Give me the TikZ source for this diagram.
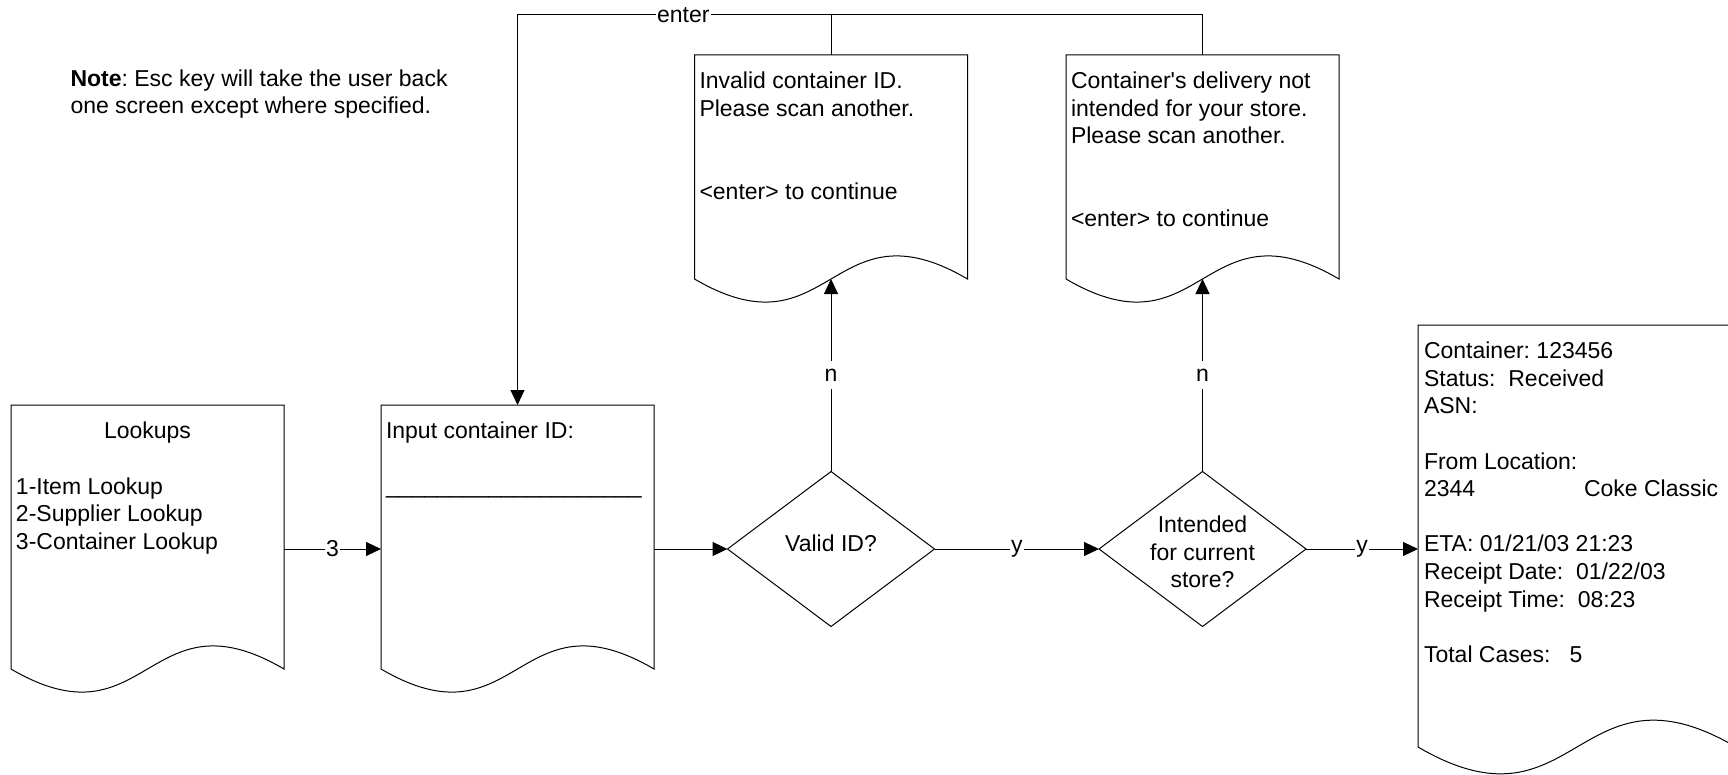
\documentclass[tikz,border=0pt]{standalone}
\usepackage{fontspec}
\setmainfont{Liberation Sans}[Ligatures=TeXOff]
\usetikzlibrary{arrows.meta,shapes.geometric,calc}
\frenchspacing
\newcommand\docoutline[2]{\draw[ln] (#1.north west) -- (#1.north east) -- (#1.south east)
  .. controls ($(#1.south)+(0,-#2)$) and ($(#1.south)+(0,#2)$) .. (#1.south west) -- cycle;}
\begin{document}
\begin{tikzpicture}[x=0.5pt,y=-0.5pt,
  every node/.style={font=\fontsize{11.5pt}{13.8pt}\selectfont\frenchspacing, inner sep=0pt, outer sep=0pt},
  docbox/.style={rectangle, draw=none, anchor=north west},
  ln/.style={line width=0.5pt, draw=black},
  arr/.style={ln, -{Triangle[length=7.5pt,width=7pt]}},
  lbl/.style={fill=white, inner xsep=0.75pt, inner ysep=4pt},
  dec/.style={diamond, draw, line width=0.5pt, inner sep=0pt, minimum width=103.5pt, minimum height=77.5pt},
  txt/.style={anchor=north west, align=left}
]
\path[use as bounding box] (0,0) rectangle (1728,775);
\clip (0,0) rectangle (1728,775);

% document-shaped screens
\node[docbox, minimum width=136.5pt, minimum height=132pt] (look) at (11,405) {};
\node[docbox, minimum width=136.5pt, minimum height=132pt] (inp) at (381,405) {};
\node[docbox, minimum width=136.5pt, minimum height=112pt] (inv) at (694.5,55) {};
\node[docbox, minimum width=136.5pt, minimum height=112pt] (cdel) at (1066,55) {};
\node[docbox, minimum width=159pt, minimum height=211pt] (cont) at (1418,325) {};
\docoutline{look}{80}
\docoutline{inp}{80}
\docoutline{inv}{80}
\docoutline{cdel}{80}
\docoutline{cont}{93}

% decisions
\node[dec] (d1) at (831,549) {};
\node[dec] (d2) at (1202.5,549) {};
\node[align=center] (d1T) at ($(d1)+(0,-5.5)$) {Valid ID?};
\node[align=center] (d2T) at ($(d2)+(0,3)$) {Intended\\for current\\store?};

% texts
\node[txt] (noteT) at (70.5,69.5) {\textbf{Note}: Esc key will take the user back\\one screen except where specified.};
\node[anchor=north] (lookH) at ($(look.north)+(0,17)$) {Lookups};
\node[txt] (lookT) at ($(look.north west)+(5,72.4)$) {1-Item Lookup\\2-Supplier Lookup\\3-Container Lookup};
\node[txt] (inpT) at ($(inp.north west)+(5,17)$) {Input container ID:\\\mbox{}\\\textunderscore\textunderscore\textunderscore\textunderscore\textunderscore\textunderscore\textunderscore\textunderscore\textunderscore\textunderscore\textunderscore\textunderscore\textunderscore\textunderscore\textunderscore\textunderscore\textunderscore\textunderscore\textunderscore\textunderscore};
\node[txt] (invT) at ($(inv.north west)+(5,17)$) {Invalid container ID.\\Please scan another.\\\mbox{}\\\mbox{}\\<enter> to continue};
\node[txt] (cdelT) at ($(cdel.north west)+(5,17)$) {Container's delivery not\\intended for your store.\\Please scan another.\\\mbox{}\\\mbox{}\\<enter> to continue};
\node[txt] (contT) at ($(cont.north west)+(6,17)$) {Container: 123456\\Status:\ \ Received\\ASN:\\\mbox{}\\From Location:\\\makebox[80pt][l]{2344}Coke Classic\\\mbox{}\\ETA: 01/21/03 21:23\\Receipt Date:\ \ 01/22/03\\Receipt Time:\ \ 08:23\\\mbox{}\\Total Cases:\ \ \ 5};

% connectors
\coordinate (topy) at (0,15);
\draw[arr] (look.east |- d1) -- node[lbl]{3} (inp.west |- d1);
\draw[arr] (inp.east |- d1) -- (d1.west);
\draw[arr] (d1.east) -- node[lbl]{y} (d2.west);
\draw[arr] (d2.east) -- node[lbl]{y} (cont.west |- d2);
\draw[arr] (d1.north) -- node[lbl]{n} (inv.south);
\draw[arr] (d2.north) -- node[lbl]{n} (cdel.south);
\draw[ln] (inv.north) -- (inv.north |- topy);
\draw[arr] (cdel.north) -- (cdel.north |- topy) -- node[lbl, pos=0.758]{enter} (inp.north |- topy) -- (inp.north);
\end{tikzpicture}
\end{document}
